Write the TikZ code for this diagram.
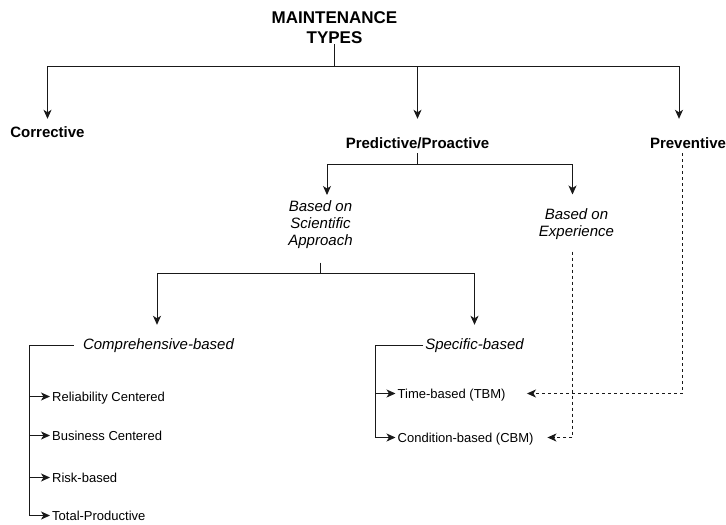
\documentclass[tikz,border=0pt]{standalone}
\usepackage{fontspec}
\setmainfont{Liberation Sans}
\usetikzlibrary{arrows.meta,calc}
\begin{document}
\begin{tikzpicture}[x=1pt,y=-1pt,
  line/.style={draw=black!90, line width=1pt},
  arr/.style={line, -{Stealth[length=9pt,width=8pt,inset=2.5pt]}},
  darr/.style={arr, dash pattern=on 3pt off 3pt},
  lvlone/.style={inner sep=0pt, text height=11pt, text depth=3pt, font=\fontsize{15}{18}\selectfont\bfseries},
  itl/.style={inner sep=0pt, align=center, font=\fontsize{15}{17}\selectfont\itshape},
  itlone/.style={inner sep=0pt, text height=11pt, text depth=3pt, font=\fontsize{15}{17}\selectfont\itshape},
  leaf/.style={inner xsep=2pt, inner ysep=0pt, text height=9.4pt, text depth=0pt, anchor=west, font=\fontsize{13}{15}\selectfont},
]
\useasboundingbox[fill=white] (0,0) rectangle (726,525);

% nodes
\node[inner sep=0pt, align=center, anchor=north, font=\fontsize{17}{20.5}\selectfont\bfseries] (title) at (334.5,11.3) {MAINTENANCE\\TYPES};
\node[lvlone] (corr) at (47.5,133.5) {Corrective};
\node[lvlone] (pred) at (417.5,144.5) {Predictive/Proactive};
\node[lvlone] (prev) at (688,144.5) {Preventive};
\node[itl, anchor=north] (sci) at (320.5,200.5) {Based on\\Scientific\\Approach};
\node[itl, anchor=north] (exp) at (576.5,208.8) {Based on\\Experience};
\node[itlone] (comp) at (158.5,345.5) {Comprehensive-based};
\node[itlone] (spec) at (474.5,345.5) {Specific-based};
\node[leaf] (rel) at (50,396.5) {Reliability Centered};
\node[leaf] (bus) at (50,435.5) {Business Centered};
\node[leaf] (risk) at (50,477.5) {Risk-based};
\node[leaf] (tot) at (50,515.5) {Total-Productive};
\node[leaf] (tbm) at (395.5,393.5) {Time-based (TBM)};
\node[leaf] (cbm) at (395.5,437.5) {Condition-based (CBM)};

% top level
\draw[line] (title.south) -- ++(0,22.4) coordinate (tbus);
\draw[arr] (tbus) -| ([yshift=7.5pt]corr.north);
\draw[arr] (tbus) -| ([yshift=18.5pt]pred.north);
\draw[arr] (tbus) -| ([xshift=-9pt,yshift=18.5pt]prev.north);

% predictive split
\draw[line] ([yshift=-1.5pt]pred.south) -- ++(0,11) coordinate (pbus);
\draw[arr] (pbus) -| ([xshift=6.5pt,yshift=5.5pt]sci.north);
\draw[arr] (pbus) -| ([xshift=-4pt,yshift=14.3pt]exp.north);

% scientific split
\draw[line] ([yshift=-13.8pt]sci.south) -- ++(0,11) coordinate (sbus);
\draw[arr] (sbus) -| ([xshift=-1.5pt,yshift=13.5pt]comp.north);
\draw[arr] (sbus) -| ([yshift=13.5pt]spec.north);

% comprehensive bracket
\coordinate (cbus) at (29.5,345.5);
\draw[arr] ([xshift=-9pt]comp.west) -- (cbus) |- (rel.west);
\draw[arr] ([xshift=-9pt]comp.west) -- (cbus) |- (bus.west);
\draw[arr] ([xshift=-9pt]comp.west) -- (cbus) |- (risk.west);
\draw[arr] ([xshift=-9pt]comp.west) -- (cbus) |- (tot.west);

% specific bracket
\coordinate (sbr) at (375.5,345.5);
\draw[arr] ([xshift=-2pt]spec.west) -- (sbr) |- (tbm.west);
\draw[arr] ([xshift=-2pt]spec.west) -- (sbr) |- (cbm.west);

% dashed links
\draw[darr] ([xshift=-5.5pt,yshift=-1.5pt]prev.south) |- ([xshift=19.2pt]tbm.east);
\draw[darr] ([xshift=-4pt,yshift=-11.4pt]exp.south) |- ([xshift=11.7pt]cbm.east);
\end{tikzpicture}
\end{document}
